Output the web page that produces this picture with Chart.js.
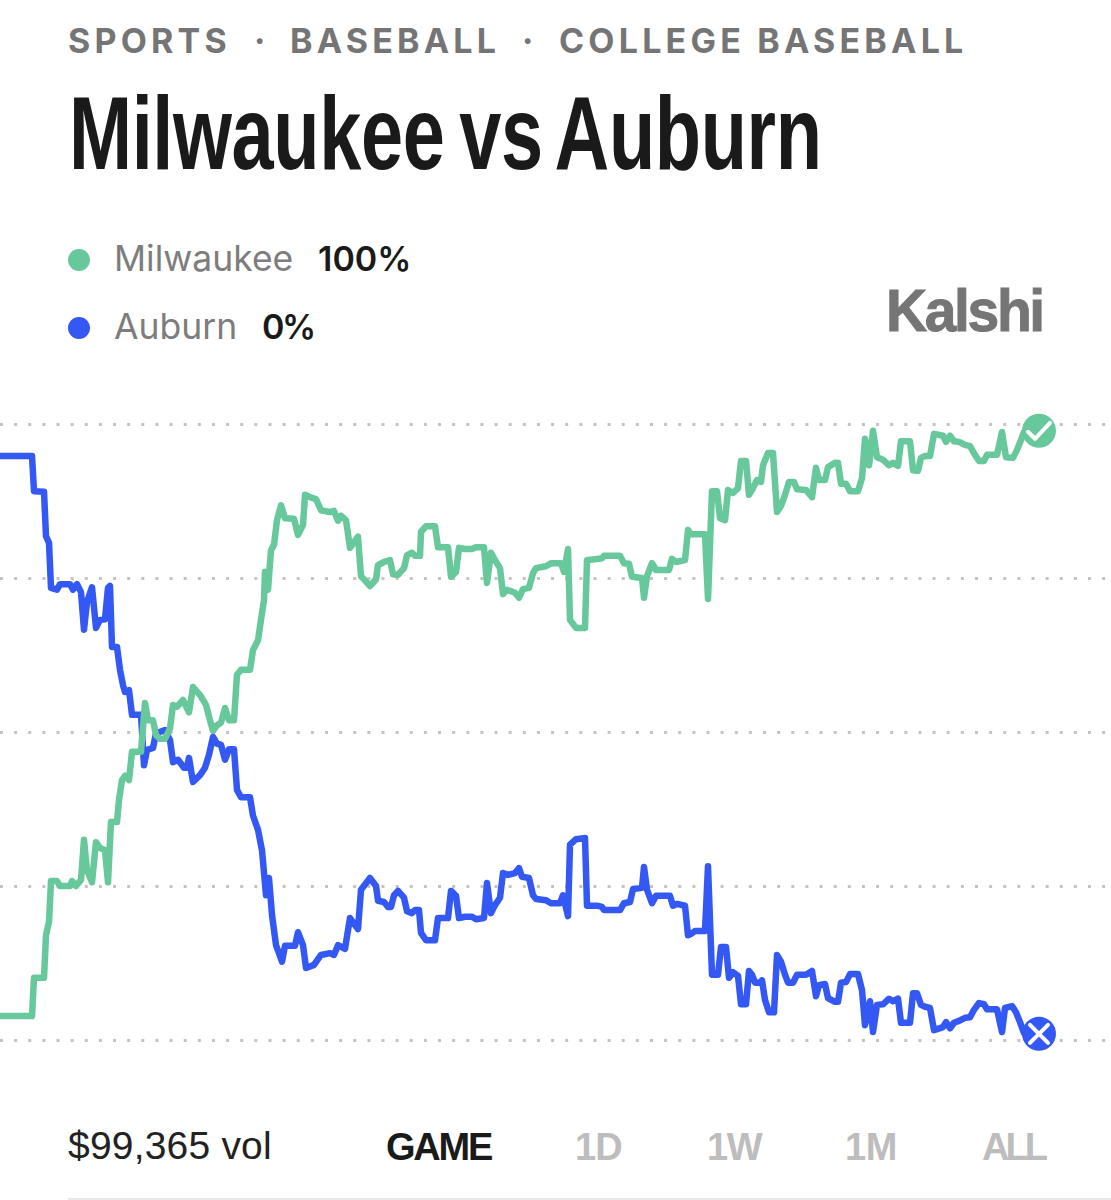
<!DOCTYPE html>
<html>
<head>
<meta charset="utf-8">
<title>Milwaukee vs Auburn</title>
<script src="https://cdn.jsdelivr.net/npm/chart.js@4.4.0/dist/chart.umd.min.js"></script>
<style>
    html, body { margin: 0; padding: 0; background: #fff; }
    body { position: relative; width: 1111px; height: 1200px; overflow: hidden; font-family: Inter, "Liberation Sans", sans-serif; }
    .abs { position: absolute; white-space: nowrap; line-height: 1; }
    #crumbs { left: 68px; top: 24px; font-size: 34px; font-weight: 700; letter-spacing: 4.2px; color: #757575; }
    #crumbs span { position: absolute; top: 0; }
    #title { left: 69px; top: 82px; font-size: 103px; font-weight: 700; color: #1a1a1a; font-family: "Liberation Sans", sans-serif; transform: scaleX(0.735); transform-origin: left top; word-spacing: -8px; letter-spacing: -0.5px; }
    .dot { position: absolute; width: 22px; height: 22px; border-radius: 50%; left: 68px; }
    .name { color: #7d7d7d; font-size: 35.5px; left: 114px; }
    .pct { color: #1a1a1a; font-size: 34px; font-weight: 600; }
    #kalshi { left: 886px; top: 281px; font-size: 60px; font-weight: 700; color: #757575; letter-spacing: -2.5px; font-family: "Liberation Sans", sans-serif; transform: scaleX(0.95); transform-origin: left top; -webkit-text-stroke: 1px #757575; }
    #vol { left: 68px; top: 1126px; font-size: 39px; letter-spacing: 0.2px; color: #222; font-family: "Liberation Sans", sans-serif; }
    .range { top: 1128px; font-size: 38px; font-weight: 700; color: #bdbdbd; font-family: "Liberation Sans", sans-serif; }
    #rule { position: absolute; left: 68px; right: 0; top: 1198px; height: 2px; background: #e8e8e8; }
    #chartBox { position: absolute; left: 0; top: 400px; }
</style>
</head>
<body>
<div class="abs" id="crumbs"><span style="left:0">SPORTS</span><span style="left:186px">·</span><span style="left:222px">BASEBALL</span><span style="left:454px">·</span><span style="left:491px">COLLEGE&nbsp;BASEBALL</span></div>
<div class="abs" id="title">Milwaukee vs Auburn</div>
<div class="dot" style="top:249px;background:#66c89b"></div>
<div class="abs name" style="top:241px">Milwaukee</div>
<div class="abs pct" style="top:242px;left:318px">100%</div>
<div class="dot" style="top:317px;background:#3358f4"></div>
<div class="abs name" style="top:309px">Auburn</div>
<div class="abs pct" style="top:310px;left:262px;letter-spacing:-2.5px">0%</div>
<div class="abs" id="kalshi">Kalshi</div>
<div id="chartBox"><canvas id="chart" width="1111" height="680"></canvas></div>
<div class="abs" id="vol">$99,365 vol</div>
<div class="abs range" style="left:386px;color:#1a1a1a;letter-spacing:-2.2px">GAME</div>
<div class="abs range" style="left:575px;letter-spacing:-1px">1D</div>
<div class="abs range" style="left:707px;letter-spacing:-1.5px">1W</div>
<div class="abs range" style="left:845px;letter-spacing:-0.5px">1M</div>
<div class="abs range" style="left:982px;letter-spacing:-4px">ALL</div>
<div id="rule"></div>

<script>
// game time in minutes, chance in percent
const milwaukeeTimes = [
    0, 6.4, 6.8, 8.8, 9.2, 9.8, 10.2, 11.4, 12.0, 14.0,
    14.4, 15.2, 16.2, 16.8, 17.4, 18.4, 19.2, 20.0, 21.0, 21.6,
    22.2, 23.4, 23.8, 24.4, 25.0, 25.8, 26.4, 28.2, 29.0, 29.6,
    30.6, 31.2, 32.0, 33.0, 34.0, 34.6, 35.4, 36.6, 37.8, 38.6,
    40.0, 41.2, 42.0, 42.6, 43.4, 44.2, 45.0, 45.8, 46.8, 47.4,
    48.2, 50.0, 50.6, 51.6, 52.2, 52.8, 53.0, 53.6, 54.2, 54.8,
    55.4, 56.2, 57.0, 58.8, 59.6, 60.6, 61.0, 62.4, 63.2, 64.2,
    66.0, 66.8, 67.6, 68.2, 69.2, 70.0, 71.6, 72.2, 74.0, 75.2,
    75.6, 76.8, 78.0, 78.6, 79.6, 80.8, 81.4, 82.4, 83.0, 84.0,
    84.2, 85.2, 87.0, 87.6, 89.6, 90.2, 91.2, 91.8, 93.0, 94.4,
    95.2, 96.8, 97.4, 98.2, 99.0, 100.0, 100.6, 101.4, 103.0, 103.8,
    104.6, 105.8, 106.6, 107.2, 109.2, 110.2, 112.2, 112.8, 113.6, 114.0,
    115.2, 117.0, 117.4, 119.4, 120.4, 120.8, 124.0, 124.8, 125.8, 126.4,
    128.4, 128.8, 129.4, 130.4, 131.2, 133.8, 134.4, 135.2, 137.0, 137.6,
    138.2, 141.0, 141.6, 142.4, 143.4, 144.0, 145.0, 145.6, 146.6, 147.6,
    148.2, 149.2, 149.8, 150.4, 151.4, 152.2, 152.6, 153.6, 154.6, 155.4,
    156.2, 157.0, 157.8, 158.8, 159.4, 161.2, 162.4, 163.2, 163.8, 165.0,
    165.6, 167.0, 167.6, 168.2, 169.2, 170.0, 171.6, 172.4, 173.0, 173.8,
    174.6, 175.4, 176.6, 177.8, 178.6, 179.6, 180.2, 182.0, 182.6, 183.6,
    184.2, 185.0, 186.0, 186.8, 188.6, 189.2, 190.0, 190.8, 191.8, 193.0,
    194.0, 195.0, 195.8, 196.8, 197.4, 199.4, 200.4, 201.2, 202.6, 203.4,
    204.2, 204.8, 207.8
];
const milwaukeeChance = [
    3.9, 3.9, 10.1, 10.1, 17.0, 19.2, 25.8, 25.8, 25.0, 25.0,
    25.8, 25.0, 26.0, 32.5, 27.6, 25.6, 32.1, 31.2, 30.8, 25.6,
    35.4, 35.4, 39.0, 42.2, 42.9, 42.2, 46.8, 46.8, 54.7, 51.9,
    51.9, 49.5, 48.9, 48.9, 50.6, 54.4, 54.1, 55.2, 53.2, 57.3,
    56.0, 54.4, 51.9, 50.2, 51.1, 51.5, 53.9, 51.9, 51.9, 59.3,
    60.1, 60.1, 63.3, 64.9, 68.2, 71.4, 76.0, 73.1, 79.5, 80.4,
    84.4, 86.8, 84.7, 84.6, 82.0, 83.6, 88.5, 88.0, 87.8, 86.0,
    85.7, 85.9, 84.3, 85.1, 84.4, 79.9, 81.7, 75.3, 73.7, 74.8,
    77.1, 77.6, 77.9, 75.6, 75.5, 76.6, 78.7, 79.1, 78.6, 78.6,
    82.5, 83.4, 83.4, 80.0, 80.0, 75.2, 76.0, 79.9, 79.7, 79.7,
    80.0, 80.0, 74.2, 79.1, 77.9, 76.6, 72.4, 73.1, 72.6, 71.8,
    73.2, 73.4, 75.8, 76.6, 76.9, 77.4, 77.4, 76.0, 79.7, 68.2,
    66.9, 66.9, 77.9, 78.1, 78.2, 78.6, 78.6, 77.4, 77.3, 75.2,
    75.0, 71.8, 75.3, 77.4, 76.3, 76.3, 78.1, 77.6, 77.9, 82.8,
    82.1, 82.1, 71.6, 89.1, 89.1, 84.7, 84.4, 89.3, 88.8, 89.6,
    94.0, 94.0, 88.5, 89.3, 90.9, 90.6, 93.3, 95.3, 95.3, 85.7,
    86.7, 88.5, 90.6, 90.6, 89.4, 89.3, 88.1, 92.9, 90.9, 90.9,
    93.0, 93.7, 93.7, 90.3, 90.3, 89.1, 89.1, 91.2, 97.6, 93.3,
    98.9, 94.6, 94.2, 93.3, 93.7, 93.2, 97.2, 97.2, 92.5, 92.4,
    94.5, 94.8, 94.8, 98.4, 98.1, 97.1, 98.1, 97.2, 97.1, 96.6,
    96.4, 95.0, 94.0, 94.0, 95.0, 95.0, 98.7, 94.6, 94.5, 95.8,
    97.4, 98.7, 98.9
];
const auburnTimes = [
    0, 6.4, 6.8, 8.8, 9.2, 9.8, 10.2, 11.4, 12.0, 14.0,
    14.6, 15.4, 16.2, 16.8, 17.4, 18.4, 19.2, 20.0, 21.0, 21.6,
    22.0, 22.4, 23.4, 24.0, 24.6, 25.0, 25.8, 26.4, 28.2, 28.8,
    29.4, 30.6, 31.2, 33.0, 34.0, 34.6, 35.6, 36.8, 37.4, 37.8,
    38.2, 38.6, 40.0, 41.0, 41.8, 42.6, 43.4, 44.2, 45.0, 45.8,
    46.8, 47.4, 48.2, 50.0, 50.6, 51.6, 52.4, 53.2, 53.8, 54.4,
    55.2, 56.4, 57.0, 59.0, 59.6, 60.6, 61.2, 62.8, 64.2, 66.0,
    66.8, 67.6, 69.0, 70.0, 71.6, 72.2, 74.0, 75.2, 75.6, 76.8,
    77.6, 78.2, 78.8, 79.6, 80.8, 81.4, 82.4, 83.0, 83.8, 84.2,
    85.2, 87.0, 87.6, 89.6, 90.2, 91.2, 91.8, 93.0, 94.4, 95.2,
    96.8, 97.4, 98.2, 99.0, 100.0, 100.6, 101.6, 103.0, 103.8, 104.4,
    105.8, 106.6, 107.2, 109.2, 110.2, 112.0, 112.6, 113.6, 114.0, 115.2,
    117.0, 117.4, 119.4, 120.4, 120.8, 124.0, 124.8, 126.0, 126.6, 128.4,
    128.8, 129.4, 130.4, 131.2, 134.0, 134.6, 135.4, 137.0, 137.6, 138.2,
    139.0, 141.0, 141.6, 142.4, 143.6, 144.2, 145.2, 145.8, 146.6, 147.6,
    148.2, 149.2, 149.8, 150.4, 151.0, 152.2, 152.4, 153.0, 153.8, 154.8,
    155.4, 156.2, 157.0, 157.6, 158.6, 159.4, 161.2, 162.4, 163.2, 163.8,
    165.0, 165.6, 167.0, 167.6, 168.2, 169.2, 170.0, 171.6, 172.4, 173.0,
    173.6, 174.0, 174.6, 175.4, 176.6, 177.8, 178.6, 179.6, 180.2, 182.0,
    182.6, 183.4, 184.2, 185.0, 186.0, 186.8, 188.6, 189.2, 190.0, 190.8,
    191.8, 193.0, 194.0, 194.8, 195.8, 196.8, 197.4, 199.4, 200.4, 201.0,
    202.4, 203.2, 204.0, 204.8, 207.8
];
const auburnChance = [
    94.8, 94.8, 89.1, 89.0, 81.8, 80.7, 73.4, 73.1, 74.0, 74.0,
    73.1, 74.0, 72.7, 66.6, 71.1, 73.5, 66.9, 68.2, 68.3, 73.4,
    73.7, 63.8, 63.8, 60.1, 57.6, 56.5, 56.8, 52.8, 52.8, 44.6,
    47.1, 47.4, 49.8, 50.3, 48.7, 45.1, 45.5, 44.2, 44.2, 45.8,
    43.8, 41.9, 43.0, 44.2, 46.3, 49.2, 48.1, 47.9, 45.5, 47.2,
    47.2, 40.6, 39.4, 39.4, 36.4, 34.1, 30.8, 23.5, 26.3, 20.3,
    15.4, 12.7, 15.3, 15.3, 17.5, 15.4, 11.7, 12.2, 13.8, 14.1,
    13.8, 15.4, 14.8, 19.8, 18.0, 24.4, 26.3, 25.0, 22.6, 22.4,
    21.6, 21.6, 23.5, 24.2, 23.1, 20.9, 20.6, 21.1, 21.1, 17.4,
    16.2, 16.2, 19.8, 19.8, 24.2, 23.4, 19.8, 20.0, 20.0, 19.6,
    19.8, 25.5, 20.6, 21.9, 23.1, 27.1, 26.8, 27.1, 27.9, 26.5,
    26.3, 23.5, 22.9, 22.7, 22.2, 22.2, 23.5, 20.1, 31.7, 32.6,
    32.8, 21.8, 21.8, 21.6, 21.1, 21.1, 22.2, 22.4, 24.5, 24.7,
    28.1, 24.4, 22.2, 23.4, 23.4, 21.8, 22.1, 21.8, 17.0, 17.2,
    17.7, 17.7, 28.2, 10.6, 10.6, 15.1, 15.1, 10.1, 11.0, 10.4,
    5.8, 5.8, 11.2, 10.6, 9.3, 9.3, 9.7, 6.5, 4.5, 4.5,
    13.8, 12.7, 10.6, 9.3, 9.3, 10.6, 10.6, 11.2, 7.1, 8.9,
    9.1, 6.8, 6.2, 6.2, 9.3, 9.4, 10.7, 10.7, 8.1, 2.4,
    4.9, 6.3, 1.3, 5.7, 5.8, 6.7, 6.3, 6.7, 2.8, 2.8,
    7.6, 7.6, 5.7, 5.4, 5.2, 1.6, 2.1, 2.9, 1.9, 2.8,
    3.1, 3.6, 3.7, 4.9, 6.0, 5.8, 5.0, 5.0, 1.3, 5.2,
    5.5, 4.5, 2.9, 1.1, 1.0
];
const yTicks = [0, 25, 50, 75, 100];

const toPoints = (times, values) => times.map((t, i) => ({ x: t, y: values[i] }));

// last point gets the big result badge, the glyph goes on top of it
const endBadge = {
    id: 'endBadge',
    afterDatasetsDraw(chart) {
        const ctx = chart.ctx;
        chart.data.datasets.forEach((ds, i) => {
            const pts = chart.getDatasetMeta(i).data;
            const p = pts[pts.length - 1];
            ctx.save();
            ctx.strokeStyle = '#fff';
            ctx.lineWidth = 4;
            ctx.lineCap = 'round';
            ctx.lineJoin = 'round';
            ctx.beginPath();
            if (i === 0) {
                ctx.moveTo(p.x - 11, p.y + 1);
                ctx.lineTo(p.x - 4, p.y + 8);
                ctx.lineTo(p.x + 11, p.y - 8);
            } else {
                ctx.moveTo(p.x - 9, p.y - 9);
                ctx.lineTo(p.x + 9, p.y + 9);
                ctx.moveTo(p.x + 9, p.y - 9);
                ctx.lineTo(p.x - 9, p.y + 9);
            }
            ctx.stroke();
            ctx.restore();
        });
    }
};

function line(label, times, values, color) {
    return {
        label,
        data: toPoints(times, values),
        borderColor: color,
        backgroundColor: color,
        borderWidth: 6.5,
        borderJoinStyle: 'round',
        borderCapStyle: 'round',
        tension: 0,
        clip: false,
        pointRadius: ctx => (ctx.dataIndex === times.length - 1 ? 17 : 0),
        pointBorderWidth: 0,
        pointBackgroundColor: color
    };
}

new Chart(document.getElementById('chart'), {
    type: 'line',
    data: {
        datasets: [
            line('Milwaukee', milwaukeeTimes, milwaukeeChance, '#66c89b'),
            line('Auburn', auburnTimes, auburnChance, '#3358f4')
        ]
    },
    options: {
        responsive: false,
        animation: false,
        layout: { autoPadding: false, padding: { top: 24, bottom: 40, left: 0, right: 0 } },
        plugins: { legend: { display: false }, tooltip: { enabled: false } },
        scales: {
            x: { type: 'linear', min: 0, max: 222.2, display: false },
            y: {
                min: 0,
                max: 100,
                afterBuildTicks: axis => { axis.ticks = yTicks.map(v => ({ value: v })); },
                ticks: { display: false },
                border: { display: false, dash: [3, 11.13] },
                grid: { color: '#c4c4bf', lineWidth: 3, drawTicks: false }
            }
        }
    },
    plugins: [endBadge]
});
</script>
</body>
</html>
